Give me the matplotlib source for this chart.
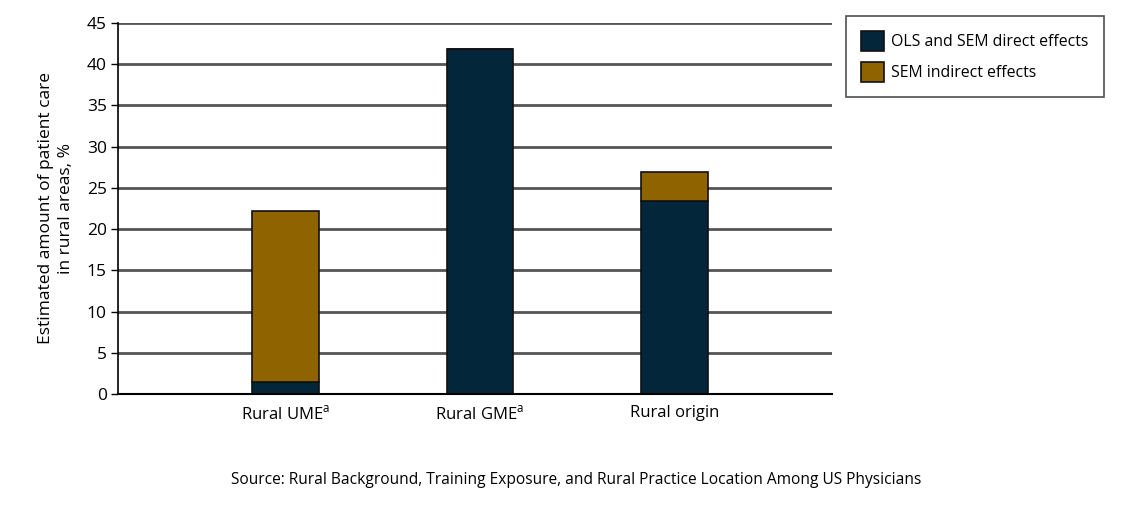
import numpy as np
import matplotlib
matplotlib.use('Agg')
import matplotlib.pyplot as plt

plt.rcParams['font.family'] = ['Open Sans', 'DejaVu Sans']

# data
categories = ['Rural UME$^{\\mathregular{a}}$', 'Rural GME$^{\\mathregular{a}}$', 'Rural origin']
direct = [1.5, 41.9, 23.4]
indirect = [20.7, 0.0, 3.5]
series_names = ['OLS and SEM direct effects', 'SEM indirect effects']

navy = '#03263A'
gold = '#8E6300'

fig = plt.figure(figsize=(11.29, 5.21), dpi=100)
ax = fig.add_axes([0.1045, 0.2438, 0.6325, 0.7121])

x = np.arange(len(categories))
w = 0.343
b1 = ax.bar(x, direct, w, color=navy, edgecolor='#111111', linewidth=1.2,
            label=series_names[0], zorder=3)
b2 = ax.bar(x, indirect, w, bottom=direct, color=gold, edgecolor='#111111',
            linewidth=1.2, label=series_names[1], zorder=3)

ax.set_xlim(-0.86, 2.81)
ax.set_ylim(0, 45)
ax.set_yticks(np.arange(0, 46, 5))
ax.set_xticks(x)
ax.set_xticklabels(categories, fontsize=12)
ax.tick_params(axis='x', length=0, pad=8)
ax.tick_params(axis='y', length=5, width=1, labelsize=12.5, pad=3)

ax.yaxis.grid(True, color='#555555', linewidth=2, zorder=0)
for sp in ['top', 'right']:
    ax.spines[sp].set_visible(False)
ax.spines['left'].set_linewidth(1.2)
ax.spines['bottom'].set_linewidth(1.5)
ax.spines['bottom'].set_zorder(4)

ax.set_ylabel('Estimated amount of patient care\nin rural areas, %', fontsize=12.5,
              labelpad=9, linespacing=1.4)

leg = fig.legend(loc='upper left', bbox_to_anchor=(0.7493, 0.969), fontsize=11.4,
                 frameon=True, fancybox=False, edgecolor='#222222',
                 handlelength=1.45, handleheight=1.55, borderpad=0.95,
                 labelspacing=0.7, handletextpad=0.45, borderaxespad=0)
leg.get_frame().set_linewidth(1.2)

fig.text(0.51, 0.078, 'Source: Rural Background, Training Exposure, and Rural Practice Location Among US Physicians',
         ha='center', va='center', fontsize=11.2)

fig.savefig('out.png', dpi=100)
